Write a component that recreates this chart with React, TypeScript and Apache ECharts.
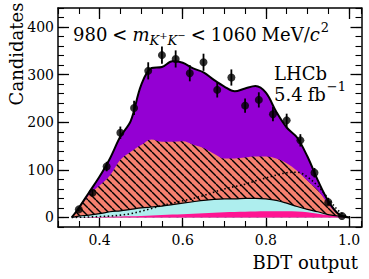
import { useEffect, useRef } from "react";
import * as echarts from "echarts";

// Fit components, sampled along the BDT output
const curveX = [0.333, 0.35, 0.375, 0.4, 0.425, 0.45, 0.475, 0.5, 0.525, 0.55, 0.575, 0.6, 0.625, 0.65, 0.675, 0.7, 0.725, 0.75, 0.775, 0.8, 0.825, 0.85, 0.875, 0.9, 0.925, 0.95, 0.975, 1.0];
const pinkComp = [0, 0, 0.5, 1, 1.5, 2, 2.5, 3, 4, 5, 6, 7, 8, 9, 10, 11, 11.5, 12, 12.5, 13, 13, 13, 12.5, 11, 8, 5, 2, 0];
const cyanComp = [0, 3, 4.5, 7, 10.5, 12, 14.5, 17, 18, 19, 21, 23, 25, 27, 28, 28, 27.5, 28, 27.5, 26, 23, 17, 10.5, 6, 4, 1, 1, 0];
const salmonComp = [0, 15, 43, 59, 76, 107, 121, 132, 142, 135, 132, 130, 120, 110, 96, 85, 85, 86, 88, 89, 88, 84, 75, 60, 45, 22, 3, 0];
const purpleComp = [0, 2, 5, 19, 36, 49, 65, 126, 150, 157, 169, 165, 160, 159, 155, 151, 141, 145, 148, 134, 98, 75, 70, 51, 21, 7, 1, 0];
const dottedComp = [0, 0.5, 1, 2, 3, 5, 8, 13, 19, 25, 30, 35, 40, 46, 53, 60, 65, 70, 77, 83, 89, 94, 95, 85, 66, 40, 14, 0];

// Data points
const dataX = [0.35, 0.383, 0.417, 0.45, 0.483, 0.517, 0.55, 0.583, 0.617, 0.65, 0.683, 0.717, 0.75, 0.783, 0.817, 0.85, 0.883, 0.917, 0.95, 0.983];
const dataY = [17, 52, 107, 178, 230, 308, 341, 333, 303, 326, 268, 294, 235, 247, 217, 204, 162, 94, 32, 3];
const dataErr = [4, 7, 10, 13, 15, 18, 18, 18, 17, 18, 16, 17, 15, 16, 15, 14, 13, 10, 6, 2];

const xMajor = [0.4, 0.6, 0.8, 1.0];
const yMajor = [0, 100, 200, 300, 400];

const FAM = "DejaVu Serif";

type Run = { t: string; size: number; it?: boolean; dy?: number; gap?: number };

function fontStr(size: number, it?: boolean) {
  return `${it ? "italic" : "normal"} normal ${size}px "${FAM}"`;
}

function layout(x0: number, base: number, runs: Run[]) {
  const ctx = document.createElement("canvas").getContext("2d")!;
  let x = x0;
  const els: any[] = [];
  for (const r of runs) {
    x += r.gap || 0;
    ctx.font = fontStr(r.size, r.it);
    const w = ctx.measureText(r.t).width;
    els.push({
      type: "text",
      x,
      y: base + (r.dy || 0) - 0.31 * r.size,
      silent: true,
      style: {
        text: r.t,
        font: fontStr(r.size, r.it),
        lineHeight: r.size * 0.9,
        fill: "#000",
        align: "left",
        verticalAlign: "middle",
      },
    });
    x += w;
  }
  return els;
}

function hatch() {
  const s = 8;
  const c = document.createElement("canvas");
  c.width = s;
  c.height = s;
  const g = c.getContext("2d")!;
  g.fillStyle = "#f5806f";
  g.fillRect(0, 0, s, s);
  g.strokeStyle = "#000";
  g.lineWidth = 1.4;
  for (const k of [-s, 0, s]) {
    g.beginPath();
    g.moveTo(k, 0);
    g.lineTo(k + s, s);
    g.stroke();
  }
  return { image: c.toDataURL(), repeat: "repeat", imageWidth: s, imageHeight: s };
}

export default function App() {
  const ref = useRef<HTMLDivElement>(null);
  useEffect(() => {
    const chart = echarts.init(ref.current!, null, { renderer: "svg" });
    const cum1 = pinkComp.slice();
    const cum2 = cum1.map((v, i) => v + cyanComp[i]);
    const cum3 = cum2.map((v, i) => v + salmonComp[i]);
    const cum4 = cum3.map((v, i) => v + purpleComp[i]);
    const pts = (arr: number[]) => curveX.map((x, i) => [x, arr[i]]);

    const gridRect = { left: 58, right: 7.5, top: 8, bottom: 52 };
    const axLine = { show: true, onZero: false, lineStyle: { color: "#000", width: 1.5 } };
    const noLine = { show: false, onZero: false };
    const lbl = { fontFamily: FAM, fontSize: 14, color: "#000" };

    const S = 18;
    const graphics = [
      ...layout(73, 40, [
        { t: "980", size: S },
        { t: "<", size: S, gap: 5 },
        { t: "m", size: S, it: true, gap: 5 },
        { t: "K", size: 13, it: true, dy: 4.5, gap: 0 },
        { t: "+", size: 10, dy: -1.5, gap: 0 },
        { t: "K", size: 13, it: true, dy: 4.5, gap: 0 },
        { t: "−", size: 10, dy: -1.5, gap: 0 },
        { t: "<", size: S, gap: 5 },
        { t: "1060", size: S, gap: 5 },
        { t: "MeV/", size: S, gap: 5 },
        { t: "c", size: S, it: true },
        { t: "2", size: 13, dy: -8, gap: 1 },
      ]),
      ...layout(274, 79, [{ t: "LHCb", size: S }]),
      ...layout(274, 100, [
        { t: "5.4", size: S },
        { t: "fb", size: S, gap: 5 },
        { t: "−1", size: 13, dy: -9, gap: 1 },
      ]),
      {
        type: "text",
        x: 16,
        y: 54,
        rotation: Math.PI / 2,
        silent: true,
        style: { text: "Candidates", font: fontStr(18), fill: "#000", align: "center", verticalAlign: "middle" },
      },
      {
        type: "text",
        x: 358,
        y: 268 - 0.31 * 18,
        silent: true,
        style: { text: "BDT output", font: fontStr(18), fill: "#000", align: "right", verticalAlign: "middle" },
      },
    ];

    chart.setOption({
      animation: false,
      textStyle: { fontFamily: FAM },
      grid: [
        { ...gridRect },
        { ...gridRect },
      ],
      xAxis: [
        {
          type: "value", gridIndex: 0, position: "bottom", min: 0.3, max: 1.03,
          axisLine: axLine,
          axisTick: { show: true, inside: true, length: 11, customValues: xMajor, lineStyle: { color: "#000", width: 1.3 } },
          axisLabel: { ...lbl, customValues: xMajor, margin: 6, formatter: (v: number) => v.toFixed(1) },
          splitLine: { show: false },
        },
        {
          type: "value", gridIndex: 0, position: "top", min: 0.3, max: 1.03,
          axisLine: axLine,
          axisTick: { show: true, inside: true, length: 11, customValues: xMajor, lineStyle: { color: "#000", width: 1.3 } },
          axisLabel: { show: false },
          splitLine: { show: false },
        },
        {
          type: "value", gridIndex: 1, position: "bottom", min: 0.3, max: 1.03, interval: 0.05,
          axisLine: noLine,
          axisTick: { show: true, inside: true, length: 6, lineStyle: { color: "#000", width: 1.1 } },
          axisLabel: { show: false },
          splitLine: { show: false },
        },
        {
          type: "value", gridIndex: 1, position: "top", min: 0.3, max: 1.03, interval: 0.05,
          axisLine: noLine,
          axisTick: { show: true, inside: true, length: 6, lineStyle: { color: "#000", width: 1.1 } },
          axisLabel: { show: false },
          splitLine: { show: false },
        },
      ],
      yAxis: [
        {
          type: "value", gridIndex: 0, position: "left", min: -20, max: 440,
          axisLine: axLine,
          axisTick: { show: true, inside: true, length: 11, customValues: yMajor, lineStyle: { color: "#000", width: 1.3 } },
          axisLabel: { ...lbl, customValues: yMajor, margin: 4 },
          splitLine: { show: false },
        },
        {
          type: "value", gridIndex: 0, position: "right", min: -20, max: 440,
          axisLine: axLine,
          axisTick: { show: true, inside: true, length: 11, customValues: yMajor, lineStyle: { color: "#000", width: 1.3 } },
          axisLabel: { show: false },
          splitLine: { show: false },
        },
        {
          type: "value", gridIndex: 1, position: "left", min: -20, max: 440, interval: 20,
          axisLine: noLine,
          axisTick: { show: true, inside: true, length: 6, lineStyle: { color: "#000", width: 1.1 } },
          axisLabel: { show: false },
          splitLine: { show: false },
        },
        {
          type: "value", gridIndex: 1, position: "right", min: -20, max: 440, interval: 20,
          axisLine: noLine,
          axisTick: { show: true, inside: true, length: 6, lineStyle: { color: "#000", width: 1.1 } },
          axisLabel: { show: false },
          splitLine: { show: false },
        },
      ],
      series: [
        {
          type: "line", data: pts(cum4), smooth: 0.35, symbol: "none",
          lineStyle: { width: 0 }, areaStyle: { color: "#9400d3", opacity: 1 },
        },
        {
          type: "line", data: pts(cum3), smooth: 0.35, symbol: "none",
          lineStyle: { width: 0 }, areaStyle: { color: hatch(), opacity: 1 },
        },
        {
          type: "line", data: pts(cum2), smooth: 0.35, symbol: "none",
          lineStyle: { width: 1.2, color: "#000" }, areaStyle: { color: "#aeeeee", opacity: 1 },
        },
        {
          type: "line", data: pts(cum1), smooth: 0.35, symbol: "none",
          lineStyle: { width: 0 }, areaStyle: { color: "#ff1493", opacity: 1 },
        },
        {
          type: "line", data: pts(dottedComp), smooth: 0.35, symbol: "none",
          lineStyle: { width: 1.6, color: "#000", type: [1.5, 2.5] },
        },
        {
          type: "line", data: pts(cum4), smooth: 0.35, symbol: "none",
          lineStyle: { width: 2, color: "#000" },
        },
        {
          type: "custom",
          dimensions: ["x", "y", "e"],
          encode: { x: 0, y: 1 },
          data: dataX.map((x, i) => [x, dataY[i], dataErr[i]]),
          renderItem: (params: any, api: any) => {
            const x = api.value(0), y = api.value(1), e = api.value(2);
            const a = api.coord([x, y + e]);
            const b = api.coord([x, y - e]);
            return {
              type: "line",
              shape: { x1: a[0], y1: a[1], x2: b[0], y2: b[1] },
              style: { stroke: "#000", lineWidth: 1.8 },
            };
          },
          z: 5,
        },
        {
          type: "scatter",
          data: dataX.map((x, i) => [x, dataY[i]]),
          symbol: "circle", symbolSize: 8,
          itemStyle: { color: "#000" },
          z: 6,
        },
      ],
      graphic: graphics,
    });
    return () => chart.dispose();
  }, []);
  return <div ref={ref} style={{ width: 369, height: 279, position: "absolute", left: 0, top: 0 }} />;
}
